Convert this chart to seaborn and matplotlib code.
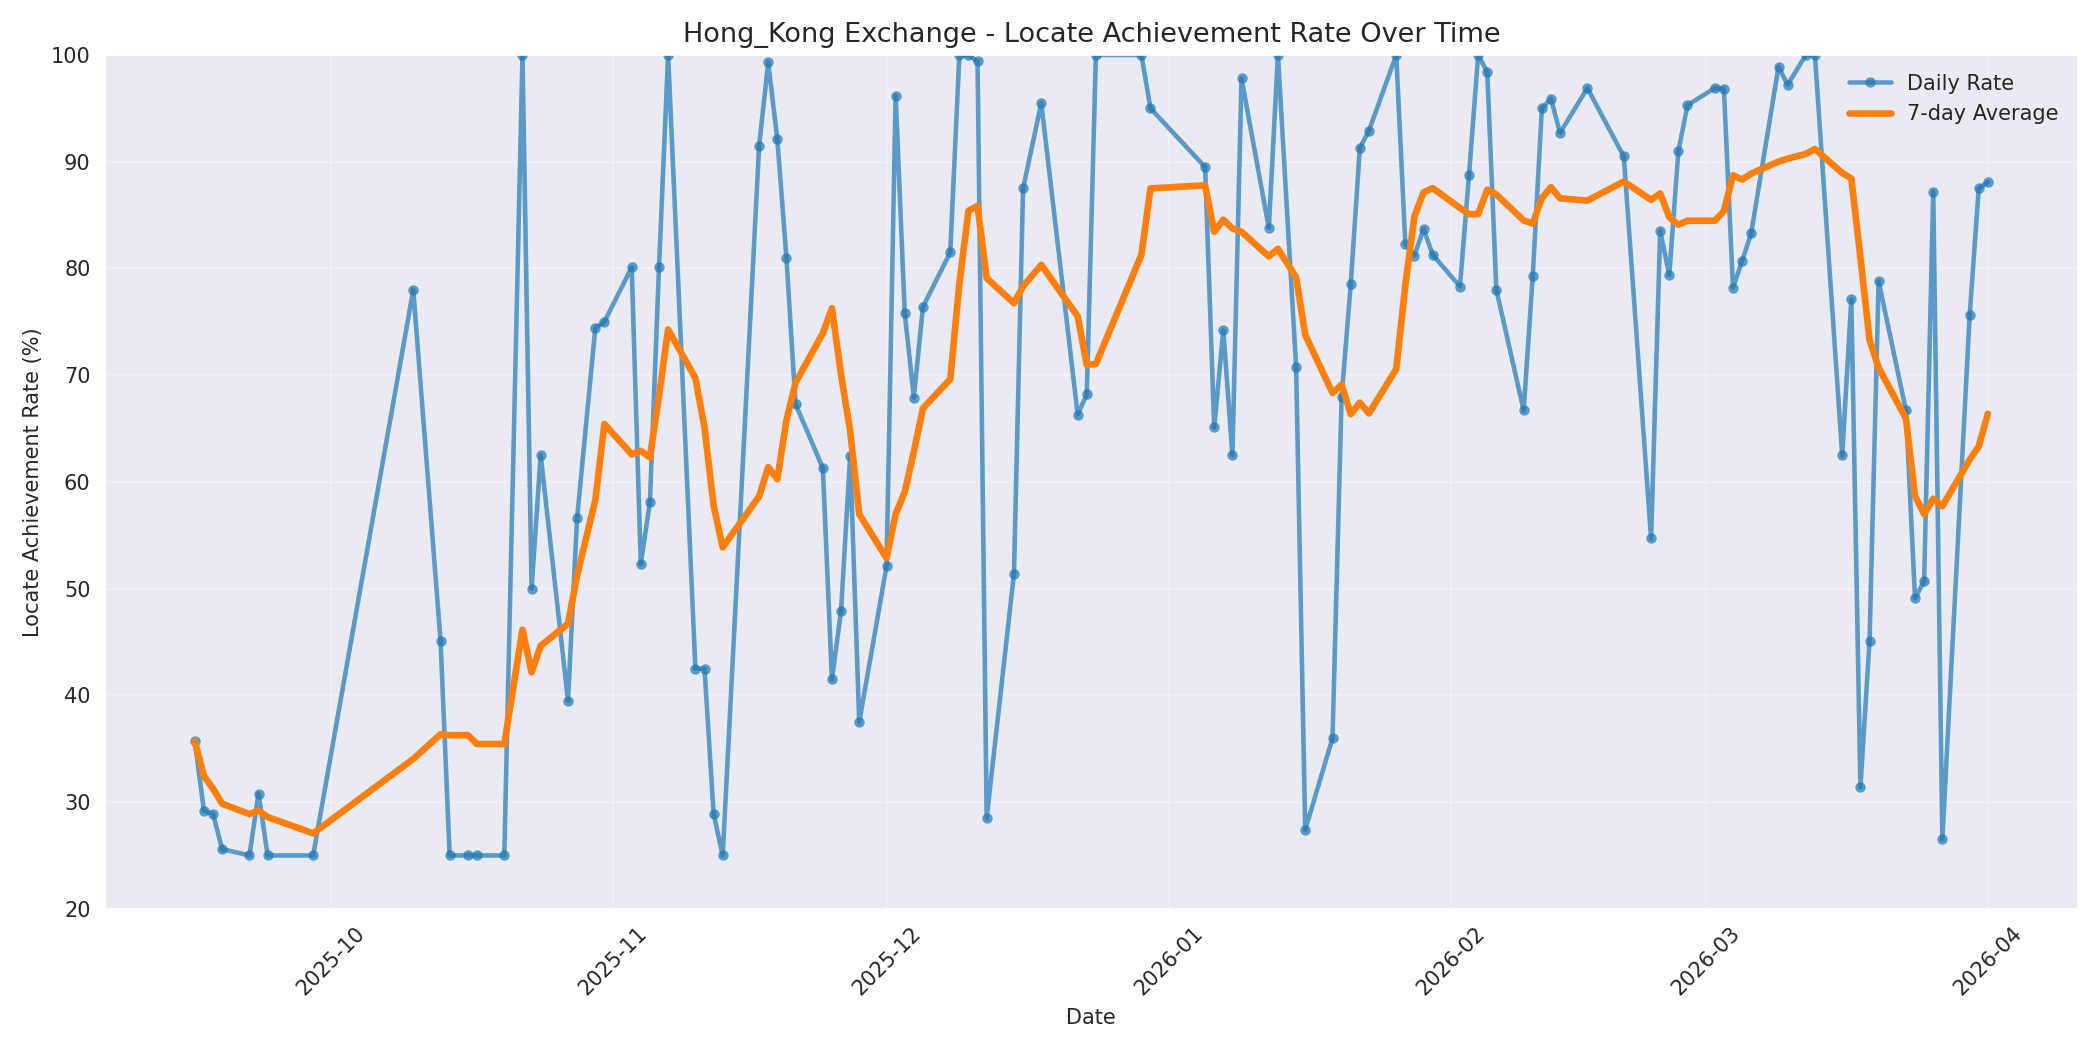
import pandas as pd
import numpy as np
import matplotlib
matplotlib.use("Agg")
import matplotlib.pyplot as plt
import matplotlib.dates as mdates
import seaborn as sns

dates = [
    "2025-09-16", "2025-09-17", "2025-09-18", "2025-09-19", "2025-09-22", "2025-09-23", "2025-09-24",
    "2025-09-29", "2025-10-10", "2025-10-13", "2025-10-14", "2025-10-16", "2025-10-17", "2025-10-20",
    "2025-10-22", "2025-10-23", "2025-10-24", "2025-10-27", "2025-10-28", "2025-10-30", "2025-10-31",
    "2025-11-03", "2025-11-04", "2025-11-05", "2025-11-06", "2025-11-07", "2025-11-10", "2025-11-11",
    "2025-11-12", "2025-11-13", "2025-11-17", "2025-11-18", "2025-11-19", "2025-11-20", "2025-11-21",
    "2025-11-24", "2025-11-25", "2025-11-26", "2025-11-27", "2025-11-28", "2025-12-01", "2025-12-02",
    "2025-12-03", "2025-12-04", "2025-12-05", "2025-12-08", "2025-12-09", "2025-12-10", "2025-12-11",
    "2025-12-12", "2025-12-15", "2025-12-16", "2025-12-18", "2025-12-22", "2025-12-23", "2025-12-24",
    "2025-12-29", "2025-12-30", "2026-01-05", "2026-01-06", "2026-01-07", "2026-01-08", "2026-01-09",
    "2026-01-12", "2026-01-13", "2026-01-15", "2026-01-16", "2026-01-19", "2026-01-20", "2026-01-21",
    "2026-01-22", "2026-01-23", "2026-01-26", "2026-01-27", "2026-01-28", "2026-01-29", "2026-01-30",
    "2026-02-02", "2026-02-03", "2026-02-04", "2026-02-05", "2026-02-06", "2026-02-09", "2026-02-10",
    "2026-02-11", "2026-02-12", "2026-02-13", "2026-02-16", "2026-02-20", "2026-02-23", "2026-02-24",
    "2026-02-25", "2026-02-26", "2026-02-27", "2026-03-02", "2026-03-03", "2026-03-04", "2026-03-05",
    "2026-03-06", "2026-03-09", "2026-03-10", "2026-03-12", "2026-03-13", "2026-03-16", "2026-03-17",
    "2026-03-18", "2026-03-19", "2026-03-20", "2026-03-23", "2026-03-24", "2026-03-25", "2026-03-26",
    "2026-03-27", "2026-03-30", "2026-03-31", "2026-04-01",
]
rates = [
    35.7, 29.2, 28.9, 25.6, 25.0, 30.8, 25.0,
    25.0, 78.0, 45.1, 25.0, 25.0, 25.0, 25.0,
    100.0, 50.0, 62.5, 39.5, 56.6, 74.4, 75.0,
    80.1, 52.3, 58.1, 80.1, 100.0, 42.5, 42.5,
    28.9, 25.0, 91.5, 99.3, 92.1, 81.0, 67.3,
    61.3, 41.5, 47.9, 62.4, 37.5, 52.1, 96.2,
    75.8, 67.9, 76.4, 81.5, 100.0, 100.0, 99.4,
    28.5, 51.4, 87.5, 95.5, 66.3, 68.2, 100.0,
    100.0, 95.0, 89.5, 65.1, 74.2, 62.5, 97.8,
    83.8, 100.0, 70.8, 27.4, 36.0, 68.0, 78.5,
    91.3, 92.9, 100.0, 82.3, 81.2, 83.7, 81.3,
    78.3, 88.8, 100.0, 98.4, 78.0, 66.7, 79.3,
    95.0, 95.9, 92.7, 96.9, 90.5, 54.7, 83.5,
    79.4, 91.0, 95.3, 96.9, 96.8, 78.2, 80.7,
    83.3, 98.9, 97.2, 100.0, 100.0, 62.5, 77.1,
    31.4, 45.1, 78.8, 66.7, 49.1, 50.7, 87.2,
    26.5, 75.6, 87.5, 88.1,
]

df = pd.DataFrame({"date": pd.to_datetime(dates), "rate": rates})
df["avg7"] = df["rate"].rolling(7, min_periods=1).mean()

sns.set_style("darkgrid")
fig, ax = plt.subplots(figsize=(14, 7), dpi=150)

sns.lineplot(data=df, x="date", y="rate", ax=ax, color="#1f77b4", alpha=0.7,
             linewidth=2.2, marker="o", markersize=5, markeredgewidth=0, label="Daily Rate")
sns.lineplot(data=df, x="date", y="avg7", ax=ax, color="#ff7f0e",
             linewidth=3.2, label="7-day Average")

ax.set_ylim(20, 100)
ax.set_title("Hong_Kong Exchange - Locate Achievement Rate Over Time", fontsize=13)
ax.set_xlabel("Date")
ax.set_ylabel("Locate Achievement Rate (%)")
ax.xaxis.set_major_locator(mdates.MonthLocator())
ax.xaxis.set_major_formatter(mdates.DateFormatter("%Y-%m"))
plt.setp(ax.get_xticklabels(), rotation=45)
ax.grid(True, alpha=0.3)
ax.legend(loc="upper right", frameon=False)

plt.tight_layout()
plt.savefig("out.png", dpi=150)
